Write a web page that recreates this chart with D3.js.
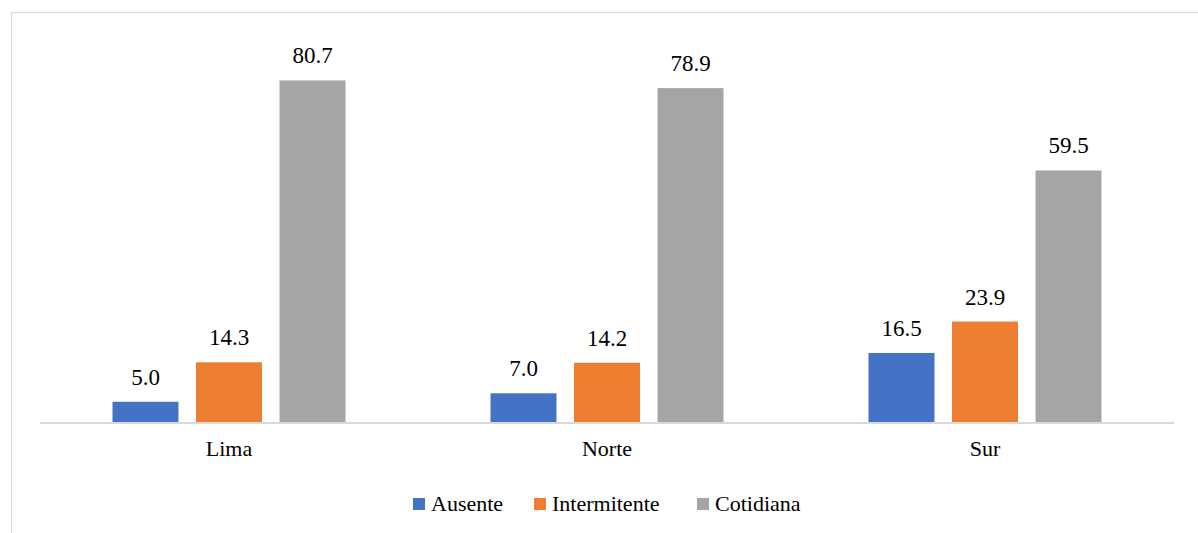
<!DOCTYPE html>
<html>
<head>
<meta charset="utf-8">
<script src="https://cdn.jsdelivr.net/npm/d3@7"></script>
<style>
  html, body { margin: 0; padding: 0; background: #fff; font-family: "Liberation Serif", "Times New Roman", serif; }
  svg { display: block; }
  svg text { font-family: "Liberation Serif", "Times New Roman", serif !important; }
</style>
</head>
<body>
<svg id="barras" width="1198" height="533" font-family="Liberation Serif, Times New Roman, serif"></svg>
<script>
const regions = ["Lima", "Norte", "Sur"];
const seriesNames = ["Ausente", "Intermitente", "Cotidiana"];
const ausente = [5.0, 7.0, 16.5];
const intermitente = [14.3, 14.2, 23.9];
const cotidiana = [80.7, 78.9, 59.5];
const seriesColors = ["#4472c4", "#ed7d31", "#a5a5a5"];

const seriesValues = [ausente, intermitente, cotidiana];

const W = 1198, H = 533;
const FONT = "\"Liberation Serif\", \"Times New Roman\", serif";
const margin = { left: 40, right: 24, top: 41, baseline: 423 };

const svg = d3.select("#barras");

// chart frame
svg.append("rect")
  .attr("x", 11.5).attr("y", 12.5)
  .attr("width", 1300).attr("height", 700)
  .attr("fill", "none").attr("stroke", "#d9d9d9").attr("stroke-width", 1.2);

const x0 = d3.scaleBand()
  .domain(regions)
  .range([margin.left, W - margin.right])
  .padding(0);

const x1 = d3.scaleBand()
  .domain(seriesNames)
  .range([-116.5, 116.5])
  .paddingInner(0.21)
  .paddingOuter(0);

const y = d3.scaleLinear()
  .domain([0, 90])
  .range([margin.baseline, margin.top]);

const fmt = d3.format(".1f");

const groups = svg.append("g").selectAll("g")
  .data(regions)
  .join("g")
  .attr("transform", d => `translate(${x0(d) + x0.bandwidth() / 2},0)`);

groups.each(function (region, ri) {
  const g = d3.select(this);
  seriesNames.forEach((s, si) => {
    const v = seriesValues[si][ri];
    g.append("rect")
      .attr("x", x1(s))
      .attr("y", y(v))
      .attr("width", x1.bandwidth())
      .attr("height", y(0) - y(v))
      .attr("fill", seriesColors[si]);
    g.append("text")
      .attr("x", x1(s) + x1.bandwidth() / 2)
      .attr("y", y(v) - 17)
      .attr("text-anchor", "middle")
      .style("font-family", FONT, "important")
      .style("font-size", "23px")
      .style("fill", "#000")
      .text(fmt(v));
  });
});

// baseline with category labels
const xAxis = d3.axisBottom(x0).tickSize(0).tickPadding(0);
const axisG = svg.append("g")
  .attr("transform", `translate(0,${y(0)})`)
  .call(xAxis)
  .attr("font-family", FONT);
axisG.select(".domain")
  .attr("d", `M${margin.left},0H${W - margin.right}`)
  .attr("stroke", "#d9d9d9").attr("stroke-width", 2);
axisG.selectAll(".tick text")
  .attr("dy", null)
  .attr("y", 33)
  .style("font-family", FONT, "important")
  .style("font-size", "22px")
  .style("fill", "#000");

// legend
const legendItems = [
  { name: seriesNames[0], color: seriesColors[0], x: 413 },
  { name: seriesNames[1], color: seriesColors[1], x: 534 },
  { name: seriesNames[2], color: seriesColors[2], x: 697 }
];
const legend = svg.append("g");
legendItems.forEach(it => {
  legend.append("rect")
    .attr("x", it.x).attr("y", 498)
    .attr("width", 12).attr("height", 12)
    .attr("fill", it.color);
  legend.append("text")
    .attr("x", it.x + 18).attr("y", 511)
    .style("font-family", FONT, "important")
    .style("font-size", "22px")
    .style("fill", "#000")
    .text(it.name);
});
</script>
</body>
</html>
